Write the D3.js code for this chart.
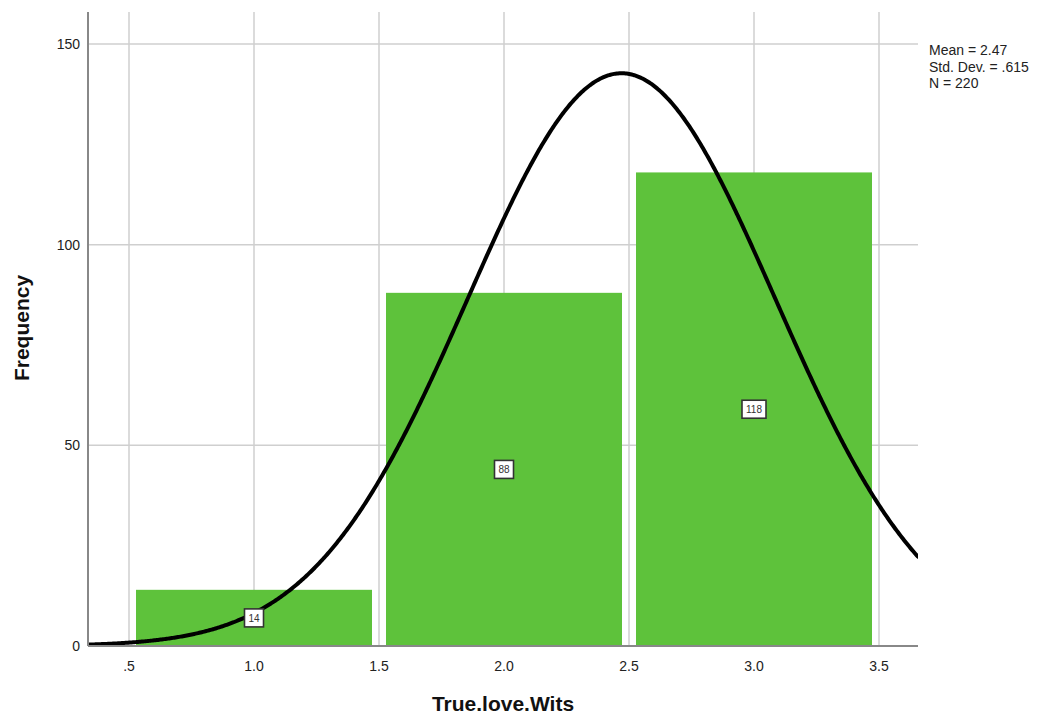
<!DOCTYPE html>
<html>
<head>
<meta charset="utf-8">
<script src="https://cdn.jsdelivr.net/npm/d3@7"></script>
<style>
  html, body { margin: 0; padding: 0; background: #fff; }
  svg { display: block; font-family: Arial, "Liberation Sans", sans-serif; }
</style>
</head>
<body>
<svg id="chart" width="1046" height="717"></svg>
<script>
// ---- data ----
const binStarts = [0.5, 1.5, 2.5];
const binEnds = [1.5, 2.5, 3.5];
const binLabels = [1.0, 2.0, 3.0];
const counts = [14, 88, 118];
const xTicks = [0.5, 1.0, 1.5, 2.0, 2.5, 3.0, 3.5];
const xTickLabels = [".5", "1.0", "1.5", "2.0", "2.5", "3.0", "3.5"];
const yTicks = [0, 50, 100, 150];
const statMean = 2.47;
const statSD = 0.615;
const statN = 220;
const statLines = ["Mean = 2.47", "Std. Dev. = .615", "N = 220"];

// ---- layout ----
const svg = d3.select("#chart");
const pLeft = 88, pRight = 918, pTop = 12, pBottom = 646;
const x = d3.scaleLinear().domain([0.336, 3.656]).range([pLeft, pRight]);
const y = d3.scaleLinear().domain([0, 150]).range([pBottom, 44]);

// gridlines
svg.append("g").selectAll("line").data(xTicks).join("line")
  .attr("x1", d => x(d)).attr("x2", d => x(d))
  .attr("y1", pTop).attr("y2", pBottom)
  .attr("stroke", "#cfcfcf").attr("stroke-width", 1.5);
svg.append("g").selectAll("line").data(yTicks.filter(d => d > 0)).join("line")
  .attr("x1", pLeft).attr("x2", pRight)
  .attr("y1", d => y(d)).attr("y2", d => y(d))
  .attr("stroke", "#cfcfcf").attr("stroke-width", 1.5);

// bars
const inset = 7;
const bars = binStarts.map((s, i) => ({ s, e: binEnds[i], c: counts[i], m: binLabels[i] }));
svg.append("g").selectAll("rect").data(bars).join("rect")
  .attr("x", d => x(d.s) + inset)
  .attr("width", d => x(d.e) - x(d.s) - 2 * inset)
  .attr("y", d => y(d.c))
  .attr("height", d => y(0) - y(d.c))
  .attr("fill", "#5ec23b");

// normal curve
const clipId = "plotclip";
svg.append("clipPath").attr("id", clipId).append("rect")
  .attr("x", pLeft).attr("y", 0).attr("width", pRight - pLeft).attr("height", pBottom);
const pdf = v => statN * 1.0 * Math.exp(-0.5 * Math.pow((v - statMean) / statSD, 2)) / (statSD * Math.sqrt(2 * Math.PI));
const xs = d3.range(0.336, 3.6561, 0.005);
svg.append("path")
  .datum(xs)
  .attr("clip-path", `url(#${clipId})`)
  .attr("d", d3.line().x(d => x(d)).y(d => y(pdf(d))))
  .attr("fill", "none").attr("stroke", "#000").attr("stroke-width", 4)
  .attr("stroke-linecap", "round");

// value labels
const lab = svg.append("g").selectAll("g").data(bars).join("g")
  .attr("transform", d => `translate(${x(d.m)},${y(d.c / 2)})`);
lab.append("rect")
  .attr("x", d => d.c >= 100 ? -12 : -9.5).attr("y", -9)
  .attr("width", d => d.c >= 100 ? 24 : 19).attr("height", 18)
  .attr("fill", "#fff").attr("stroke", "#333").attr("stroke-width", 1.6);
lab.append("text").text(d => d.c)
  .attr("text-anchor", "middle").attr("dy", "0.36em")
  .attr("font-size", 10).attr("fill", "#333");

// axes lines
svg.append("line").attr("x1", pLeft).attr("x2", pLeft).attr("y1", pTop).attr("y2", pBottom)
  .attr("stroke", "#888").attr("stroke-width", 2);
svg.append("line").attr("x1", pLeft).attr("x2", pRight).attr("y1", pBottom).attr("y2", pBottom)
  .attr("stroke", "#888").attr("stroke-width", 2);

// tick labels
svg.append("g").selectAll("text").data(yTicks).join("text")
  .attr("x", pLeft - 8).attr("y", d => y(d)).attr("dy", "0.35em")
  .attr("text-anchor", "end").attr("font-size", 14).attr("fill", "#222")
  .text(d => d);
svg.append("g").selectAll("text").data(xTicks).join("text")
  .attr("x", d => x(d)).attr("y", 671)
  .attr("text-anchor", "middle").attr("font-size", 14).attr("fill", "#222")
  .text((d, i) => xTickLabels[i]);

// axis titles
svg.append("text").attr("x", 503).attr("y", 711)
  .attr("text-anchor", "middle").attr("font-size", 21).attr("font-weight", "bold")
  .attr("fill", "#111").text("True.love.Wits");
svg.append("text").attr("transform", "translate(29,328) rotate(-90)")
  .attr("text-anchor", "middle").attr("font-size", 21).attr("font-weight", "bold")
  .attr("fill", "#111").text("Frequency");

// stats
svg.append("g").selectAll("text").data(statLines).join("text")
  .attr("x", 929).attr("y", (d, i) => 55 + i * 16.5)
  .attr("font-size", 14).attr("fill", "#222").text(d => d);
</script>
</body>
</html>
